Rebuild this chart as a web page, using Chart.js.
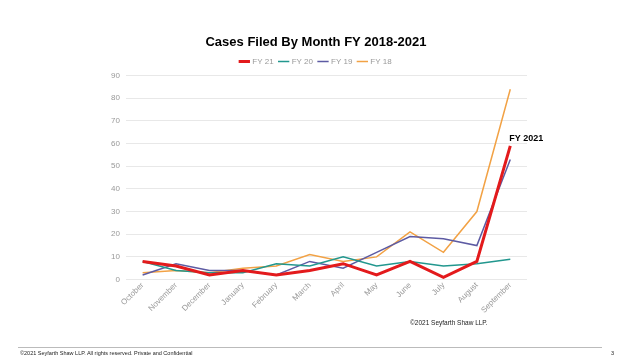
<!DOCTYPE html>
<html><head><meta charset="utf-8">
<script src="https://cdn.jsdelivr.net/npm/chart.js@4/dist/chart.umd.min.js"></script>
<style>
html,body{margin:0;padding:0;background:#fff;}
#wrap{position:absolute;left:0;top:0;width:640px;height:360px;}
.t{position:absolute;font-family:"Liberation Sans",Arial,sans-serif;color:#333;white-space:nowrap;}
</style></head><body>
<div id="wrap"><canvas id="c" width="640" height="360"></canvas></div>
<div class="t" style="left:410px;top:319px;font-size:6.5px;color:#222;">©2021 Seyfarth Shaw LLP.</div>
<div style="position:absolute;left:18px;top:347px;width:584px;height:1px;background:#bbb;"></div>
<div class="t" style="left:20px;top:350px;font-size:5.5px;color:#222;">©2021 Seyfarth Shaw LLP. All rights reserved. Private and Confidential</div>
<div class="t" style="left:611px;top:350px;font-size:5.5px;color:#222;">3</div>
<script>
const months = ["October","November","December","January","February","March","April","May","June","July","August","September"];
const fy21 = [8,6,2,4,2,4,7,2,8,1,8,59];
const fy20 = [8,4,3,3,7,6,10,6,8,6,7,9];
const fy19 = [2,7,4,4,2,8,5,12,19,18,15,53];
const fy18 = [3,4,3,5,6,11,8,10,21,12,30,84];
const yTicksMax = 90;

const labelPlugin = {
  id:'fyLabel',
  afterDatasetsDraw(chart){
    const meta = chart.getDatasetMeta(0);
    const p = meta.data[meta.data.length-1];
    const ctx = chart.ctx;
    ctx.save();
    ctx.font = 'bold 9px "Liberation Sans", Arial, sans-serif';
    ctx.fillStyle = '#000';
    ctx.textAlign = 'left';
    ctx.textBaseline = 'middle';
    ctx.fillText('FY 2021', p.x - 1, p.y - 7);
    ctx.restore();
  }
};

new Chart(document.getElementById('c'), {
  type:'line',
  data:{
    labels: months,
    datasets:[
      {label:'FY 21', data:fy21, borderColor:'#e31a1c', backgroundColor:'#e31a1c', borderWidth:3, pointRadius:0, tension:0},
      {label:'FY 20', data:fy20, borderColor:'#22978e', backgroundColor:'#22978e', borderWidth:1.5, pointRadius:0, tension:0},
      {label:'FY 19', data:fy19, borderColor:'#5d5ba3', backgroundColor:'#5d5ba3', borderWidth:1.5, pointRadius:0, tension:0},
      {label:'FY 18', data:fy18, borderColor:'#f2a245', backgroundColor:'#f2a245', borderWidth:1.5, pointRadius:0, tension:0}
    ]
  },
  options:{
    responsive:false,
    animation:false,
    layout:{padding:{left:105,right:113,top:35,bottom:42}},
    plugins:{
      title:{display:true,text:'Cases Filed By Month FY 2018-2021',color:'#000',
        font:{family:'"Liberation Sans", Arial, sans-serif',size:13,weight:'bold'},padding:{top:0,bottom:1}},
      legend:{display:true,labels:{usePointStyle:true,pointStyle:'line',boxWidth:16,color:'#999',
        font:{family:'"Liberation Sans", Arial, sans-serif',size:8},padding:6}},
      tooltip:{enabled:false}
    },
    scales:{
      x:{offset:true,grid:{display:false},border:{display:false},
        afterFit(scale){ scale.height += 10; },
        ticks:{color:'#999',minRotation:45,maxRotation:45,font:{family:'"Liberation Sans", Arial, sans-serif',size:8},padding:-7}},
      y:{min:0,max:yTicksMax,grid:{color:'#e8e8e8',drawTicks:false},border:{display:false},
        ticks:{stepSize:10,color:'#999',font:{family:'"Liberation Sans", Arial, sans-serif',size:8},padding:6}}
    }
  },
  plugins:[labelPlugin]
});
</script>
</body></html>
